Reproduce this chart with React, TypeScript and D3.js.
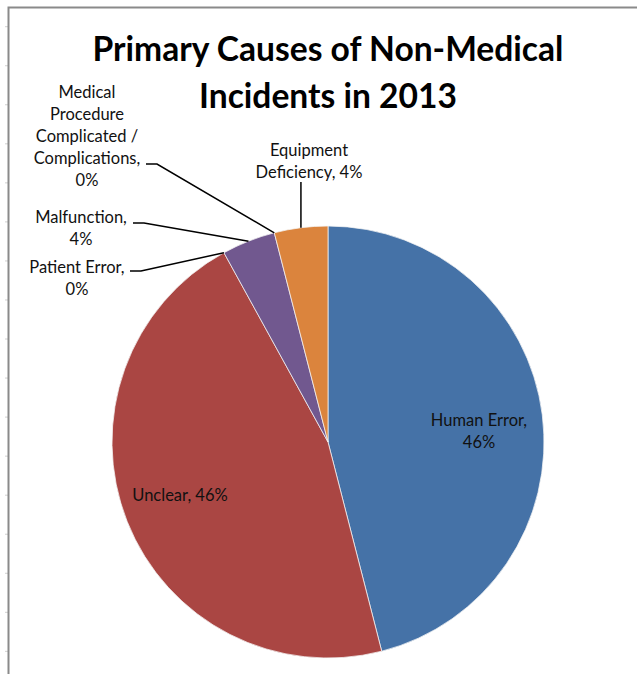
import React from "react";
import * as d3 from "d3";

const categories = [
  "Human Error",
  "Unclear",
  "Patient Error",
  "Malfunction",
  "Medical Procedure Complicated / Complications",
  "Equipment Deficiency",
];
const values = [46, 46, 0, 4, 0, 4];
const colors = ["#4572A7", "#AA4643", "#4572A7", "#71588F", "#AA4643", "#DB843D"];
const titleLines = ["Primary Causes of Non-Medical", "Incidents in 2013"];

// label text lines per category
const labelLines: string[][] = [
  ["Human Error,", "46%"],
  ["Unclear, 46%"],
  ["Patient Error,", "0%"],
  ["Malfunction,", "4%"],
  ["Medical", "Procedure", "Complicated /", "Complications,", "0%"],
  ["Equipment", "Deficiency, 4%"],
];

const W = 637;
const H = 674;
const CX = 328;
const CY = 442;
const R = 216;
const FONT = "Lato, 'Open Sans', sans-serif";
const LH = 22;

// label layout: center x, first line center y, leader info
type Layout = { x: number; y: number; leader?: "left" | "down"; lx?: number; ly?: number };
const layouts: Layout[] = [
  { x: 479, y: 420 },
  { x: 180, y: 495 },
  { x: 77, y: 267, leader: "left", lx: 130, ly: 271 },
  { x: 81, y: 217, leader: "left", lx: 133, ly: 223 },
  { x: 87, y: 92, leader: "left", lx: 146, ly: 164 },
  { x: 309, y: 150, leader: "down", lx: 301, ly: 182 },
];

export default function App() {
  React.useEffect(() => {
    document.body.style.margin = "0";
  }, []);

  const pie = d3
    .pie<number>()
    .sort(null)
    .value((d) => d)
    .startAngle(0)
    .endAngle(2 * Math.PI);
  const arcs = pie(values);
  const arcGen = d3.arc<d3.PieArcDatum<number>>().innerRadius(0).outerRadius(R);

  const tickYs = d3.range(26.7, H, 39.04);

  return (
    <svg
      width={W}
      height={H}
      style={{ position: "absolute", left: 0, top: 0, background: "#fff" }}
      fontFamily={FONT}
    >
      <rect x={0} y={0} width={W} height={H} fill="#fff" />
      {/* left faint ticks */}
      {tickYs.map((y, i) => (
        <line key={i} x1={5} x2={8} y1={y} y2={y} stroke="#d0d0d0" strokeWidth={1} />
      ))}
      {/* frame */}
      <path d={`M8.5,${H} L8.5,7.5 L${W},7.5`} fill="none" stroke="#8a8a8a" strokeWidth={2} />

      {/* title */}
      {titleLines.map((t, i) => (
        <text
          key={i}
          x={328}
          y={61 + i * 47}
          textAnchor="middle"
          fontSize={33.6}
          fontWeight="bold"
          fill="#000"
        >
          {t}
        </text>
      ))}

      <g transform={`translate(${CX},${CY})`}>
        {arcs.map((a, i) =>
          a.value > 0 ? (
            <path key={i} d={arcGen(a) || ""} fill={colors[i]} stroke="#f4f4f4" strokeWidth={0.75} />
          ) : null
        )}
      </g>

      {/* leader lines */}
      {arcs.map((a, i) => {
        const L = layouts[i];
        if (!L.leader) return null;
        const mid = (a.startAngle + a.endAngle) / 2;
        const px = CX + R * Math.sin(mid);
        const py = CY - R * Math.cos(mid);
        let d = "";
        if (L.leader === "left") {
          d = `M${L.lx},${L.ly} L${(L.lx as number) + 11},${L.ly} L${px},${py}`;
        } else {
          d = `M${px},${L.ly} L${px},${py}`;
        }
        return <path key={i} d={d} fill="none" stroke="#000" strokeWidth={1.5} />;
      })}

      {/* labels */}
      {labelLines.map((lines, i) => (
        <text key={i} textAnchor="middle" fontSize={16.5} fill="#111">
          {lines.map((ln, j) => (
            <tspan key={j} x={layouts[i].x} y={layouts[i].y + j * LH} dy="0.35em">
              {ln}
            </tspan>
          ))}
        </text>
      ))}
    </svg>
  );
}
